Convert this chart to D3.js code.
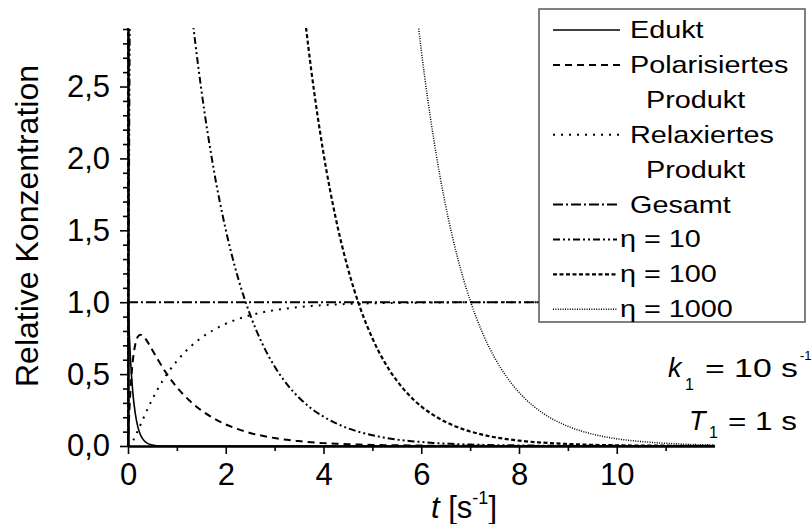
<!DOCTYPE html>
<html><head><meta charset="utf-8">
<script src="https://cdn.jsdelivr.net/npm/d3@7"></script>
<style>
body{margin:0;background:#fff}
svg{display:block}
text{font-family:"Liberation Sans",Arial,Helvetica,sans-serif;fill:#000}
</style>
</head><body>
<svg id="chart" width="812" height="524"></svg>
<script>
// ---- data ----
const tValues = [0, 0.02, 0.05, 0.1, 0.15, 0.2, 0.25, 0.3, 0.4, 0.5, 0.6, 0.8, 1,
  1.25, 1.5, 1.75, 2, 2.25, 2.5, 2.75, 3, 3.25, 3.5, 3.75, 4, 4.25, 4.5, 4.75, 5,
  5.25, 5.5, 5.75, 6, 6.25, 6.5, 6.75, 7, 7.25, 7.5, 7.75, 8, 8.5, 9, 9.5, 10, 10.5, 11, 11.5, 12];
const edukt = [1, 0.819, 0.607, 0.368, 0.223, 0.135, 0.082, 0.050, 0.018, 0.007, 0.002, 0.000, 0,
  0, 0, 0, 0, 0, 0, 0, 0, 0, 0, 0, 0, 0, 0, 0, 0,
  0, 0, 0, 0, 0, 0, 0, 0, 0, 0, 0, 0, 0, 0, 0, 0, 0, 0, 0, 0];
const polarisiert = [0, 0.179, 0.383, 0.597, 0.708, 0.759, 0.774, 0.768, 0.724, 0.666, 0.607, 0.499, 0.409,
  0.318, 0.248, 0.193, 0.150, 0.117, 0.091, 0.071, 0.055, 0.043, 0.034, 0.026, 0.020, 0.016, 0.012, 0.010, 0.007,
  0.006, 0.005, 0.004, 0.003, 0.002, 0.002, 0.001, 0.001, 0.001, 0.001, 0.000, 0.000, 0, 0, 0, 0, 0, 0, 0, 0];
const relaxiert = [0, 0.002, 0.010, 0.035, 0.069, 0.105, 0.144, 0.182, 0.257, 0.327, 0.391, 0.501, 0.591,
  0.682, 0.752, 0.807, 0.850, 0.883, 0.909, 0.929, 0.945, 0.957, 0.966, 0.974, 0.980, 0.984, 0.988, 0.990, 0.993,
  0.994, 0.995, 0.996, 0.997, 0.998, 0.998, 0.999, 0.999, 1, 1, 1, 1, 1, 1, 1, 1, 1, 1, 1, 1];
const gesamt = [1, 1, 1, 1, 1, 1, 1, 1, 1, 1, 1, 1, 1,
  1, 1, 1, 1, 1, 1, 1, 1, 1, 1, 1, 1, 1, 1, 1, 1,
  1, 1, 1, 1, 1, 1, 1, 1, 1, 1, 1, 1, 1, 1, 1, 1, 1, 1, 1, 1];
const eta10 = [0, 1.794, 3.830, 5.966, 7.084, 7.593, 7.741, 7.678, 7.244, 6.664, 6.070, 4.989, 4.087,
  3.183, 2.479, 1.931, 1.504, 1.171, 0.912, 0.710, 0.553, 0.431, 0.336, 0.261, 0.204, 0.159, 0.123, 0.096, 0.075,
  0.058, 0.045, 0.035, 0.028, 0.021, 0.017, 0.013, 0.010, 0.008, 0.006, 0.005, 0.004, 0.002, 0.001, 0.001, 0.001, 0, 0, 0, 0];
const eta100 = [0, 17.94, 38.30, 59.66, 70.84, 75.93, 77.41, 76.78, 72.44, 66.64, 60.70, 49.89, 40.87,
  31.83, 24.79, 19.31, 15.04, 11.71, 9.121, 7.103, 5.532, 4.308, 3.355, 2.613, 2.035, 1.585, 1.234, 0.961, 0.749,
  0.583, 0.454, 0.354, 0.275, 0.215, 0.167, 0.130, 0.101, 0.079, 0.061, 0.048, 0.037, 0.023, 0.014, 0.008, 0.005, 0.003, 0.002, 0.001, 0.001];
const eta1000 = [0, 179.4, 383.0, 596.6, 708.4, 759.3, 774.1, 767.8, 724.4, 666.4, 607.0, 498.9, 408.7,
  318.3, 247.9, 193.1, 150.4, 117.1, 91.21, 71.03, 55.32, 43.08, 33.55, 26.13, 20.35, 15.85, 12.34, 9.613, 7.487,
  5.831, 4.541, 3.536, 2.754, 2.145, 1.670, 1.301, 1.013, 0.789, 0.615, 0.479, 0.373, 0.226, 0.137, 0.083, 0.050, 0.031, 0.019, 0.011, 0.007];

const xTicks = [0, 2, 4, 6, 8, 10];
const xTickLabels = ["0", "2", "4", "6", "8", "10"];
const xMinorTicks = [1, 3, 5, 7, 9, 11];
const yTicks = [0, 0.5, 1, 1.5, 2, 2.5];
const yTickLabels = ["0,0", "0,5", "1,0", "1,5", "2,0", "2,5"];
const yMinorTicks = [0.1, 0.2, 0.3, 0.4, 0.6, 0.7, 0.8, 0.9, 1.1, 1.2, 1.3, 1.4, 1.6, 1.7, 1.8, 1.9,
  2.1, 2.2, 2.3, 2.4, 2.6, 2.7, 2.8, 2.9];
const seriesNames = ["Edukt", "Polarisiertes Produkt", "Relaxiertes Produkt", "Gesamt", "η = 10", "η = 100", "η = 1000"];
const legendLines = [["Edukt"], ["Polarisiertes", " Produkt"], ["Relaxiertes", " Produkt"], ["Gesamt"], ["η = 10"], ["η = 100"], ["η = 1000"]];

// ---- styles ----
const seriesData = [edukt, polarisiert, relaxiert, gesamt, eta10, eta100, eta1000];
const styles = [
  {dash: null, w: 1.6},
  {dash: "7 5", w: 2},
  {dash: "2 6", w: 2},
  {dash: "10 3 2 3", w: 2},
  {dash: "7 3 2 3 2 3", w: 2},
  {dash: "4 2.5", w: 2.2},
  {dash: "1 1.4", w: 1.5}
];

const svg = d3.select("#chart");
const x = d3.scaleLinear().domain([0, 12]).range([128, 714.5]);
const y = d3.scaleLinear().domain([0, 2.9]).range([446, 29]);

// clip
svg.append("defs").append("clipPath").attr("id", "plotClip")
  .append("rect").attr("x", x(0) - 1).attr("y", y(2.9) - 1)
  .attr("width", x(12) - x(0) + 2).attr("height", y(0) - y(2.9) + 3);

// curves
const line = d3.line()
  .x((d, i) => x(tValues[i]))
  .y(d => y(d))
  .curve(d3.curveMonotoneX);

const curves = svg.append("g").attr("clip-path", "url(#plotClip)");
seriesData.forEach((vals, k) => {
  curves.append("path")
    .datum(vals)
    .attr("d", line)
    .attr("fill", "none")
    .attr("stroke", "#000")
    .attr("stroke-width", styles[k].w)
    .attr("stroke-dasharray", styles[k].dash);
});

// axes
function styleAxis(g) {
  g.selectAll(".domain").attr("stroke", "#000").attr("stroke-width", 2);
  g.selectAll(".tick line").attr("stroke", "#000").attr("stroke-width", 1.6);
  g.selectAll(".tick text").attr("font-size", 31).attr("font-family", '"Liberation Sans",Arial,sans-serif').attr("fill", "#000");
}
const gx = svg.append("g").attr("transform", `translate(0,${y(0)})`)
  .call(d3.axisBottom(x).tickValues(xTicks).tickSize(8).tickSizeOuter(0).tickPadding(9)
    .tickFormat((d, i) => xTickLabels[i]));
styleAxis(gx);
const gxm = svg.append("g").attr("transform", `translate(0,${y(0)})`)
  .call(d3.axisBottom(x).tickValues(xMinorTicks).tickSize(5).tickSizeOuter(0).tickFormat(""));
styleAxis(gxm);

const gy = svg.append("g").attr("transform", `translate(${x(0)},0)`)
  .call(d3.axisLeft(y).tickValues(yTicks).tickSize(8).tickSizeOuter(0).tickPadding(10)
    .tickFormat((d, i) => yTickLabels[i]));
styleAxis(gy);
const gym = svg.append("g").attr("transform", `translate(${x(0)},0)`)
  .call(d3.axisLeft(y).tickValues(yMinorTicks).tickSize(5).tickSizeOuter(0).tickFormat(""));
styleAxis(gym);

// axis titles
svg.append("text")
  .attr("transform", "translate(38,226) rotate(-90)")
  .attr("text-anchor", "middle")
  .attr("font-size", 32)
  .text("Relative Konzentration");

const xt = svg.append("text").attr("x", 431).attr("y", 518).attr("font-size", 31);
xt.append("tspan").attr("font-style", "italic").text("t");
xt.append("tspan").text(" [s");
xt.append("tspan").attr("font-size", 18).attr("dy", -14).text("-1");
xt.append("tspan").attr("dy", 14).text("]");

// legend
const lg = svg.append("g");
lg.append("rect").attr("x", 539).attr("y", 9).attr("width", 266).attr("height", 313)
  .attr("fill", "#fff").attr("stroke", "#555").attr("stroke-width", 1.5);
const rowH = 34.9, base0 = 38;
let row = 0;
legendLines.forEach((lines, k) => {
  const isEta = k >= 4;
  const ly = base0 + row * rowH - 8;
  lg.append("line")
    .attr("x1", 553).attr("x2", isEta ? 617 : 620)
    .attr("y1", ly).attr("y2", ly)
    .attr("stroke", "#000")
    .attr("stroke-width", styles[k].w)
    .attr("stroke-dasharray", styles[k].dash);
  lines.forEach((s, j) => {
    const tx = isEta ? 620 : (j === 0 ? 630 : 646);
    lg.append("text")
      .attr("transform", `translate(${tx},${base0 + row * rowH}) scale(1.2,1)`)
      .attr("font-size", 24)
      .text(s.trim());
    row++;
  });
});

// annotations
const ann = svg.append("g");
ann.append("text").attr("x", 668).attr("y", 377).attr("font-size", 27).attr("font-style", "italic").text("k");
ann.append("text").attr("x", 685).attr("y", 390).attr("font-size", 16).text("1");
ann.append("text").attr("x", 705).attr("y", 377).attr("font-size", 26)
  .attr("textLength", 93).attr("lengthAdjust", "spacingAndGlyphs").text("= 10 s");
ann.append("text").attr("x", 800).attr("y", 360).attr("font-size", 13).text("-1");

ann.append("text").attr("x", 689).attr("y", 430).attr("font-size", 27).attr("font-style", "italic").text("T");
ann.append("text").attr("x", 709).attr("y", 438).attr("font-size", 16).text("1");
ann.append("text").attr("x", 728).attr("y", 430).attr("font-size", 26)
  .attr("textLength", 69).attr("lengthAdjust", "spacingAndGlyphs").text("= 1 s");
</script>
</body></html>
